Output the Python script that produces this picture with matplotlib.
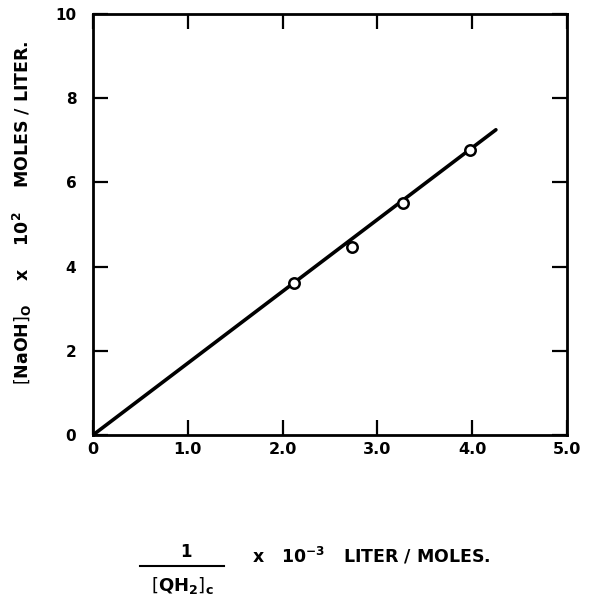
import matplotlib
matplotlib.use("Agg")
import matplotlib.pyplot as plt
from matplotlib.lines import Line2D

# Data
x_points = [2.12, 2.73, 3.27, 3.98]
y_points = [3.62, 4.47, 5.52, 6.76]
fit_x = [0.0, 4.25]
fit_y = [0.0, 7.25]

x_ticks = [0, 1, 2, 3, 4, 5]
x_tick_labels = ["0", "1.0", "2.0", "3.0", "4.0", "5.0"]
y_ticks = [0, 2, 4, 6, 8, 10]
y_tick_labels = ["0", "2", "4", "6", "8", "10"]

plt.rcParams['font.family'] = ['DejaVu Sans']
plt.rcParams['mathtext.fontset'] = 'dejavusans'

fig = plt.figure(figsize=(6.11, 6.16), dpi=100)
ax = fig.add_axes([93/611, 1-435/616, (567-93)/611, (435-14)/616])

ax.plot(fit_x, fit_y, color='black', lw=2.6, solid_capstyle='round', zorder=2)
ax.plot(x_points, y_points, 'o', ms=7.5, mfc='white', mec='black', mew=1.8, zorder=3)

ax.set_xlim(0, 5)
ax.set_ylim(0, 10)
ax.set_xticks(x_ticks)
ax.set_xticklabels(x_tick_labels, fontsize=11.5, fontweight='bold')
ax.set_yticks(y_ticks)
ax.set_yticklabels(y_tick_labels, fontsize=11, fontweight='bold')
ax.tick_params(axis='both', direction='in', length=11, width=1.6,
               top=True, right=True)
ax.tick_params(axis='x', pad=5)
ax.tick_params(axis='y', pad=12)
for s in ax.spines.values():
    s.set_linewidth(2.0)

# y label
fig.text(22/611, 1-213/616,
         r"$\left[\mathbf{NaOH}\right]_{\mathbf{O}}$    x    10$^{\mathbf{2}}$    MOLES / LITER.",
         rotation=90, ha='center', va='center', fontsize=12.5, fontweight='bold')

# x label: fraction 1/[QH2]c
fig.text(186/611, 1-552/616, "1", ha='center', va='center', fontsize=12, fontweight='bold')
fig.add_artist(Line2D([140/611, 224/611], [1-566/616, 1-566/616],
                      transform=fig.transFigure, color='black', lw=1.5))
fig.text(182/611, 1-585/616, r"$\left[\mathbf{QH_2}\right]_{\mathbf{c}}$",
         ha='center', va='center', fontsize=13)
fig.text(252/611, 1-556/616, r"x   10$^{\mathbf{-3}}$   LITER / MOLES.",
         ha='left', va='center', fontsize=12.5, fontweight='bold')

fig.savefig("out.png", dpi=100)
